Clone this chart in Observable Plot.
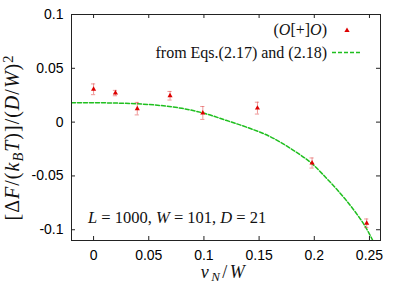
<!DOCTYPE html>
<html><head><meta charset="utf-8">
<script src="https://cdn.jsdelivr.net/npm/d3@7"></script>
<script src="https://cdn.jsdelivr.net/npm/@observablehq/plot@0.6"></script>
<style>body{margin:0;background:#fff} #chart svg{display:block}</style>
</head><body><div id="chart"></div>
<script>
// Simulation points (O[+]O)
const vN = [0, 0.0198, 0.0396, 0.0693, 0.099, 0.1485, 0.198, 0.2475];
const dF = [0.0305, 0.027, 0.0125, 0.0245, 0.0085, 0.013, -0.038, -0.094];
const dFerr = [0.005, 0.0025, 0.0058, 0.004, 0.006, 0.0055, 0.0047, 0.004];
// Theory curve from Eqs.(2.17) and (2.18)
const curveX = [-0.02, 0, 0.02, 0.04, 0.06, 0.08, 0.1, 0.12, 0.14, 0.16, 0.18, 0.2, 0.21, 0.22, 0.23, 0.24, 0.245, 0.25, 0.254];
const curveY = [0.018, 0.018, 0.0177, 0.0170, 0.0155, 0.0128, 0.0083, 0.0017, -0.0052, -0.0135, -0.0255, -0.0405, -0.051, -0.062, -0.074, -0.0875, -0.095, -0.104, -0.112];
// Ticks
const xTicks = [0, 0.05, 0.1, 0.15, 0.2, 0.25];
const yTicks = [-0.1, -0.05, 0, 0.05, 0.1];

const pts = vN.map((x, i) => ({x, y: dF[i], lo: dF[i] - dFerr[i], hi: dF[i] + dFerr[i]}));
const curve = curveX.map((x, i) => ({x, y: curveY[i]}));

const red = "#dd0000", errC = "rgba(225,70,70,0.55)", green = "#1fbf1f", ink = "#222";
const capHalf = 0.0019;

const chart = Plot.plot({
  width: 407, height: 283,
  marginLeft: 71, marginRight: 27, marginTop: 14, marginBottom: 43,
  style: {fontFamily: "'Liberation Sans', Arial, sans-serif", fontSize: "14px", color: "#000", background: "#fff"},
  x: {domain: [-0.02, 0.26]},
  y: {domain: [-0.11, 0.1]},
  marks: [
    Plot.axisX(xTicks, {tickSize: 0, tickPadding: 10, tickFormat: d => String(d), label: null, fontSize: 14}),
    Plot.axisY(yTicks, {tickSize: 0, tickPadding: 8, tickFormat: d => String(d), label: null, fontSize: 14}),
    Plot.ruleX(xTicks, {x: d => d, insetTop: 222, stroke: ink}),
    Plot.ruleX(xTicks, {x: d => d, insetBottom: 222, stroke: ink}),
    Plot.ruleY(yTicks, {y: d => d, insetRight: 305, stroke: ink}),
    Plot.ruleY(yTicks, {y: d => d, insetLeft: 305, stroke: ink}),
    Plot.line(curve, {x: "x", y: "y", stroke: green, strokeWidth: 1.5, strokeDasharray: "4,2", curve: "monotone-x", clip: true}),
    Plot.ruleX(pts, {x: "x", y1: "lo", y2: "hi", stroke: errC}),
    Plot.ruleY(pts, {y: "lo", x1: d => d.x - capHalf, x2: d => d.x + capHalf, stroke: errC}),
    Plot.ruleY(pts, {y: "hi", x1: d => d.x - capHalf, x2: d => d.x + capHalf, stroke: errC}),
    Plot.dot(pts, {x: "x", y: "y", symbol: "triangle", r: 1.9, fill: red}),
    Plot.frame({stroke: ink})
  ]
});
document.getElementById("chart").appendChild(chart);

const svg = d3.select(chart);
const serif = "'Liberation Serif', 'Times New Roman', serif";
function mtext(x, y, parts, opts = {}) {
  const t = svg.append("text").attr("x", x).attr("y", y)
    .attr("font-family", serif).attr("font-size", opts.size || 16).attr("fill", "#111")
    .attr("text-anchor", opts.anchor || "start");
  if (opts.ls) t.attr("letter-spacing", opts.ls);
  if (opts.rotate) t.attr("transform", `rotate(-90 ${x} ${y})`);
  for (const p of parts) {
    const s = t.append("tspan").text(p.t);
    if (p.i) s.attr("font-style", "italic");
    if (p.sub) s.attr("baseline-shift", "-25%").attr("font-size", "72%");
    if (p.sup) s.attr("baseline-shift", "40%").attr("font-size", "72%");
  }
  return t;
}
// Legend
mtext(327, 35, [{t: "("}, {t: "O", i: 1}, {t: "[+]"}, {t: "O", i: 1}, {t: ")"}], {anchor: "end", size: 16});
mtext(327, 57.5, [{t: "from Eqs.(2.17) and (2.18)"}], {anchor: "end", size: 16});
svg.append("path").attr("d", d3.symbol(d3.symbolTriangle, 12)()).attr("transform", "translate(347,30.5)").attr("fill", red);
svg.append("line").attr("x1", 332).attr("x2", 362).attr("y1", 52.5).attr("y2", 52.5)
  .attr("stroke", green).attr("stroke-width", 1.5).attr("stroke-dasharray", "4,2");
// Annotation
mtext(88, 222.5, [{t: "L", i: 1}, {t: " = 1000, "}, {t: "W", i: 1}, {t: " = 101, "}, {t: "D", i: 1}, {t: " = 21"}], {size: 16.5});
// Axis labels
mtext(224, 277.5, [{t: "v", i: 1}, {t: "N", i: 1, sub: 1}, {t: "/"}, {t: "W", i: 1}], {anchor: "middle", size: 18, ls: 2.5});
mtext(19, 137.5, [{t: "[Δ"}, {t: "F", i: 1}, {t: "/("}, {t: "k", i: 1}, {t: "B", i: 1, sub: 1}, {t: "T", i: 1}, {t: ")]/("}, {t: "D", i: 1}, {t: "/"}, {t: "W", i: 1}, {t: ")"}, {t: "2", sup: 1}], {anchor: "middle", size: 20, ls: 1, rotate: 1});
</script></body></html>
